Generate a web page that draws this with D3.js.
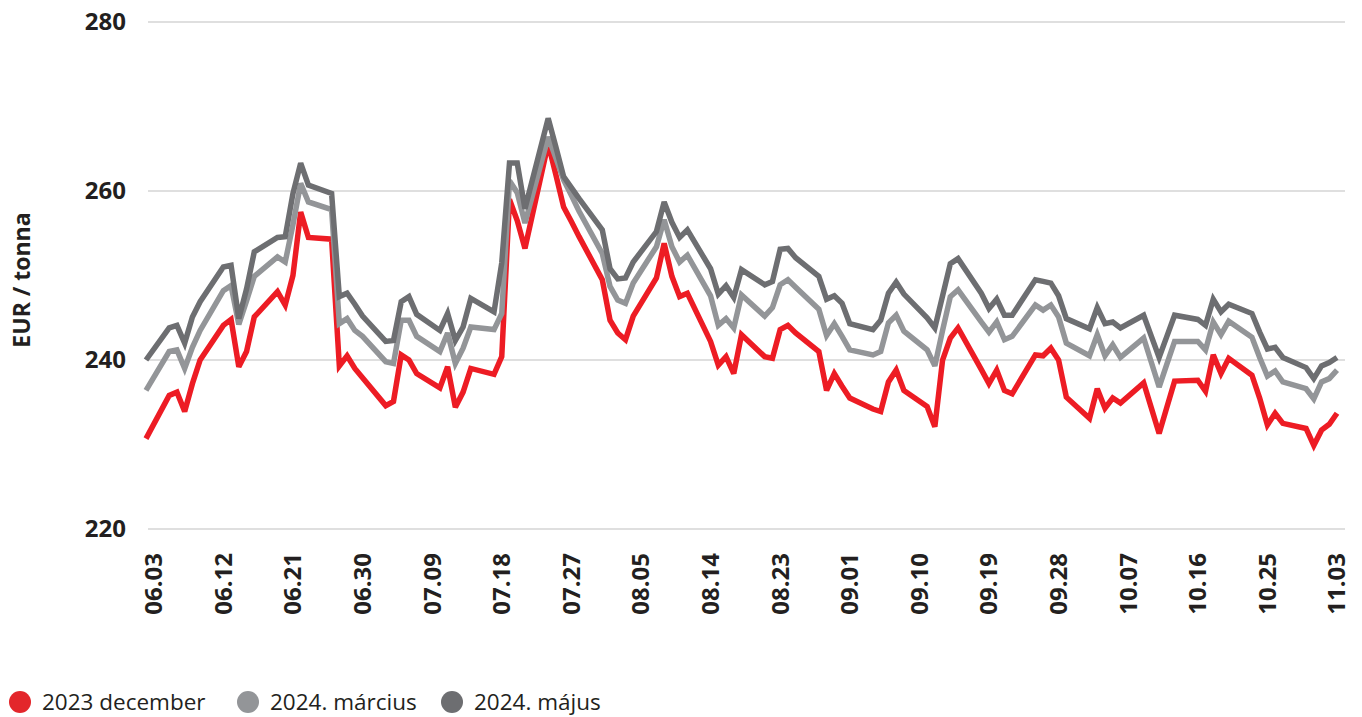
<!DOCTYPE html>
<html><head><meta charset="utf-8">
<script src="https://cdn.jsdelivr.net/npm/d3@7"></script>
<style>
html,body{margin:0;padding:0;background:#fff;}
svg{display:block;}
text{font-family:"Open Sans","Noto Sans",sans-serif;fill:#231f20;}
</style></head>
<body><svg id="chart" width="1362" height="717"></svg>
<script>
// Trading days (2023), MM-DD
const dates = [
 "06-02","06-05","06-06","06-07","06-08","06-09","06-12","06-13","06-14","06-15","06-16","06-19","06-20","06-21","06-22","06-23","06-26","06-27","06-28","06-29","06-30",
 "07-03","07-04","07-05","07-06","07-07","07-10","07-11","07-12","07-13","07-14","07-17","07-18","07-19","07-20","07-21","07-24","07-25","07-26","07-27","07-28","07-31",
 "08-01","08-02","08-03","08-04","08-07","08-08","08-09","08-10","08-11","08-14","08-15","08-16","08-17","08-18","08-21","08-22","08-23","08-24","08-25","08-28","08-29","08-30","08-31",
 "09-01","09-04","09-05","09-06","09-07","09-08","09-11","09-12","09-13","09-14","09-15","09-18","09-19","09-20","09-21","09-22","09-25","09-26","09-27","09-28","09-29",
 "10-02","10-03","10-04","10-05","10-06","10-09","10-10","10-11","10-12","10-13","10-16","10-17","10-18","10-19","10-20","10-23","10-24","10-25","10-26","10-27","10-30","10-31",
 "11-01","11-02","11-03"
];
const dec2023 = [
 230.7,235.8,236.2,233.9,237.2,240.0,244.1,244.8,239.2,241.0,245.1,248.1,246.5,250.0,257.5,254.5,254.3,239.3,240.5,239.0,237.9,
 234.6,235.1,240.6,240.0,238.4,236.7,239.2,234.4,236.2,239.0,238.3,240.4,259.0,256.5,253.2,265.6,261.9,258.1,256.4,254.6,249.5,
 244.7,243.2,242.4,245.2,249.7,253.8,249.9,247.5,247.9,242.2,239.4,240.4,238.4,243.0,240.4,240.2,243.6,244.1,243.2,241.0,236.4,238.4,236.9,
 235.5,234.2,233.9,237.4,238.8,236.4,234.5,232.1,240.0,242.6,243.8,238.9,237.2,238.8,236.4,236.0,240.6,240.5,241.4,240.0,235.6,
 233.1,236.6,234.3,235.5,234.9,237.3,234.3,231.3,234.4,237.5,237.6,236.3,240.6,238.4,240.2,238.2,235.5,232.3,233.7,232.5,231.9,229.9,
 231.7,232.4,233.7
];
const mar2024 = [
 236.4,241.0,241.2,239.0,241.5,243.5,248.2,248.8,244.2,247.0,249.9,252.2,251.6,256.0,260.9,258.7,257.8,244.3,244.9,243.5,242.8,
 239.8,239.6,244.7,244.7,242.8,241.0,243.2,239.6,241.4,243.9,243.6,245.5,261.2,259.8,256.2,266.4,263.9,261.3,259.5,257.6,252.6,
 248.7,247.1,246.7,249.1,253.4,256.6,253.4,251.6,252.4,247.6,244.1,244.9,243.8,247.7,245.2,246.2,248.9,249.5,248.6,246.0,242.9,244.3,242.8,
 241.2,240.6,241.0,244.4,245.3,243.4,241.2,239.3,243.5,247.5,248.3,244.5,243.3,244.5,242.4,242.8,246.5,245.9,246.5,245.1,242.0,
 240.5,243.0,240.5,241.8,240.3,242.6,239.7,236.8,239.5,242.2,242.2,241.2,244.5,243.0,244.6,242.7,240.3,238.1,238.7,237.4,236.6,235.4,
 237.4,237.8,238.8
];
const may2024 = [
 240.0,243.8,244.1,242.0,245.1,246.9,251.0,251.2,244.9,248.4,252.8,254.5,254.6,259.7,263.3,260.7,259.7,247.5,247.9,246.6,245.2,
 242.2,242.3,246.9,247.5,245.4,243.5,245.5,242.3,243.9,247.3,245.7,251.5,263.3,263.3,257.9,268.6,265.2,261.7,260.4,259.1,255.4,
 250.8,249.6,249.7,251.6,255.2,258.7,256.3,254.5,255.4,250.8,247.8,248.8,247.4,250.7,248.9,249.3,253.1,253.2,252.1,249.9,247.2,247.6,246.7,
 244.3,243.6,244.7,247.9,249.2,247.8,245.0,243.8,247.6,251.4,252.0,247.9,246.1,247.2,245.3,245.3,249.5,249.3,249.1,247.6,244.9,
 243.7,246.2,244.3,244.5,243.8,245.3,242.8,240.3,242.8,245.3,244.8,244.1,247.2,245.7,246.6,245.5,243.3,241.3,241.5,240.3,239.1,237.8,
 239.3,239.7,240.3
];
const seriesNames = ["2023 december","2024. március","2024. május"];
const seriesColors = ["#ed1c24","#939598","#6d6e71"];
const legendColors = ["#e3262b","#939598","#6d6e71"];
const xTickLabels = ["06.03","06.12","06.21","06.30","07.09","07.18","07.27","08.05","08.14","08.23","09.01","09.10","09.19","09.28","10.07","10.16","10.25","11.03"];
const yTicks = [220,240,260,280];
const yTitle = "EUR / tonna";
const year = 2023;

const parse = d3.timeParse("%Y-%m-%d");
const dayDates = dates.map(d => parse(year + "-" + d));
const svg = d3.select("#chart");

const x = d3.scaleTime().domain([dayDates[0], dayDates[dayDates.length-1]]).range([146, 1337]);
const y = d3.scaleLinear().domain([220, 280]).range([529, 22]);

// gridlines
svg.append("g").selectAll("line").data(yTicks).join("line")
  .attr("x1", 148).attr("x2", 1345)
  .attr("y1", d => y(d)).attr("y2", d => y(d))
  .attr("stroke", "#d4d4d4").attr("stroke-width", 1.4);

// y labels
svg.append("g").selectAll("text").data(yTicks).join("text")
  .attr("x", 126).attr("y", d => y(d)).attr("dy", "0.35em")
  .attr("text-anchor", "end")
  .style("font-size", "24px").style("font-weight", 700)
  .text(d => d);

// x labels
svg.append("g").selectAll("text").data(xTickLabels).join("text")
  .attr("transform", d => {
    const dt = parse(year + "-" + d.replace(".", "-"));
    return `translate(${x(dt)},553) rotate(-90)`;
  })
  .attr("dy", "0.35em").attr("text-anchor", "end")
  .style("font-size", "24px").style("font-weight", 700)
  .text(d => d);

// y title
svg.append("text")
  .attr("transform", "translate(22,280) rotate(-90)")
  .attr("dy", "0.35em").attr("text-anchor", "middle")
  .style("font-size", "23px").style("font-weight", 700)
  .text(yTitle);

// lines
const allSeries = [dec2023, mar2024, may2024];
const line = d3.line().x((d, i) => x(dayDates[i])).y(d => y(d));
svg.append("g").selectAll("path").data(allSeries).join("path")
  .attr("d", d => line(d))
  .attr("fill", "none")
  .attr("stroke", (d, i) => seriesColors[i])
  .attr("stroke-width", 5.5)
  .attr("stroke-linejoin", "miter")
  .attr("stroke-miterlimit", 3);

// legend
const legX = [20, 248, 452];
const lg = svg.append("g");
seriesNames.forEach((n, i) => {
  lg.append("circle").attr("cx", legX[i]).attr("cy", 702).attr("r", 11).attr("fill", legendColors[i]);
  lg.append("text").attr("x", legX[i] + 22).attr("y", 702).attr("dy", "0.35em")
    .style("font-size", "22.5px").text(n);
});
</script>
</body></html>
